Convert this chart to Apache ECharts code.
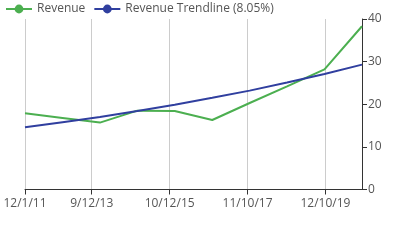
<!DOCTYPE html>
<html><head><meta charset="utf-8">
<script src="https://cdn.jsdelivr.net/npm/echarts@6/dist/echarts.min.js"></script>
<style>html,body{margin:0;padding:0;background:#fff}#c{width:416px;height:250px}</style>
</head><body><div id="c"></div>
<script>
const dates = ['2011-12-01','2012-12-01','2013-12-01','2014-12-01','2015-12-01','2016-12-01','2017-12-01','2018-12-01','2019-12-01','2020-12-01'];
const revenue = [17.9, 16.8, 15.7, 18.5, 18.4, 16.3, 20.3, 24.2, 28.2, 38.3];
const trend = [14.6, 15.8, 17.0, 18.4, 19.9, 21.5, 23.2, 25.1, 27.1, 29.3];
const tickDates = ['2011-12-01','2013-09-12','2015-10-12','2017-11-10','2019-12-10'];
const yTicks = [0, 10, 20, 30, 40];
const seriesNames = ['Revenue', 'Revenue Trendline (8.05%)'];

const ts = d => Date.parse(d + 'T00:00:00Z');
const fmt = v => { const d = new Date(v); return (d.getUTCMonth()+1) + '/' + d.getUTCDate() + '/' + String(d.getUTCFullYear()).slice(2); };
const tickVals = tickDates.map(ts);
const font = '"Open Sans", sans-serif';

const chart = echarts.init(document.getElementById('c'), null, {renderer: 'canvas'});
chart.setOption({
  animation: false,
  textStyle: {fontFamily: font},
  legend: {
    left: 0, top: -2, itemWidth: 26, itemHeight: 11, itemGap: 8,
    textStyle: {fontFamily: font, fontSize: 12, color: '#555'},
    data: seriesNames
  },
  grid: {left: 25, right: 54, top: 19, bottom: 60.5, containLabel: false},
  xAxis: {
    type: 'value',
    min: ts(dates[0]), max: ts(dates[dates.length-1]),
    axisLine: {show: true, onZero: false, lineStyle: {color: '#333', width: 1}},
    axisTick: {show: true, customValues: tickVals, length: 5, lineStyle: {color: '#333'}},
    axisLabel: {customValues: tickVals, formatter: fmt, color: '#555', fontSize: 12, fontFamily: font, margin: 8},
    splitLine: {show: true, lineStyle: {color: '#ccc', width: 1}}
  },
  yAxis: {
    type: 'value', position: 'right', min: yTicks[0], max: yTicks[yTicks.length-1], interval: 10,
    axisLine: {show: true, lineStyle: {color: '#333', width: 1}},
    axisTick: {show: true, length: 5, lineStyle: {color: '#333'}},
    axisLabel: {color: '#555', fontSize: 12, fontFamily: font, margin: 6},
    splitLine: {show: false}
  },
  series: [
    {name: seriesNames[0], type: 'line', showSymbol: false, symbol: 'circle', symbolSize: 10,
     itemStyle: {color: '#4CAF50'}, lineStyle: {color: '#4CAF50', width: 2},
     data: dates.map((d, i) => [ts(d), revenue[i]])},
    {name: seriesNames[1], type: 'line', showSymbol: false, symbol: 'circle', symbolSize: 10,
     itemStyle: {color: '#303F9F'}, lineStyle: {color: '#303F9F', width: 2},
     data: dates.map((d, i) => [ts(d), trend[i]])}
  ]
});
</script></body></html>
